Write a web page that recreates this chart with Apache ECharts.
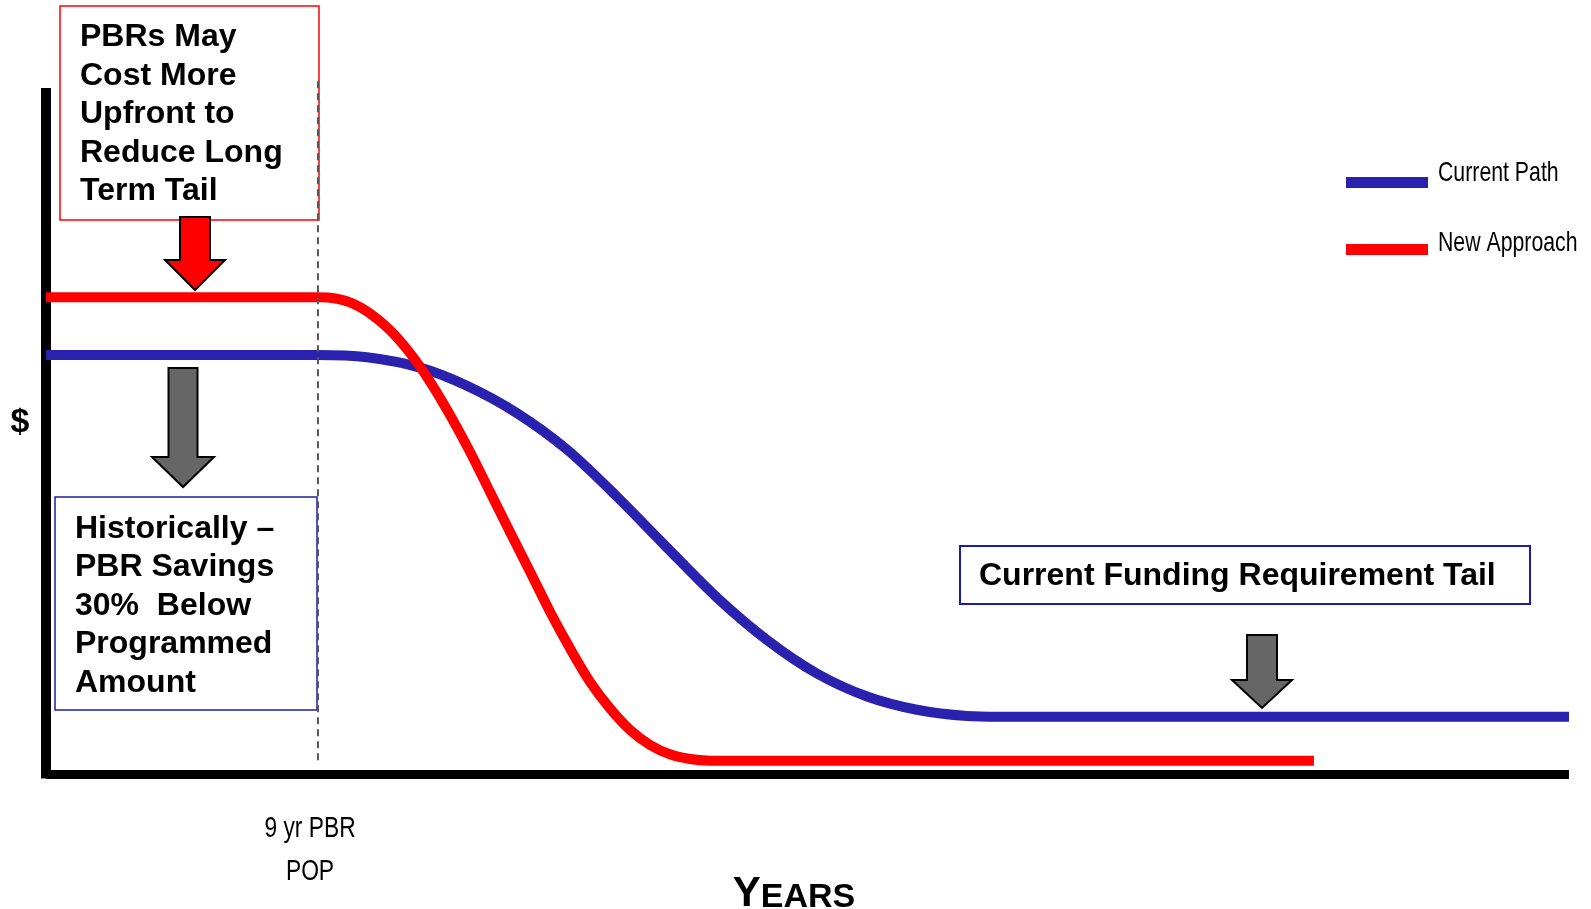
<!DOCTYPE html>
<html>
<head>
<meta charset="utf-8">
<script src="https://cdn.jsdelivr.net/npm/echarts@6/dist/echarts.min.js"></script>
<style>
html,body{margin:0;padding:0;background:#fff;}
#chart{width:1591px;height:909px;}
</style>
</head>
<body>
<div id="chart"></div>
<script>
// ---- data (x = years, y = relative $) ----
const seriesNames = ['Current Path', 'New Approach'];
const seriesColors = ['#2A22AE', '#FF0000'];
const currentPath = [
  [0, 61.08], [8, 61.08], [9, 61.08], [10.62, 60.74], [12.38, 59.24], [13.93, 56.6],
  [15.59, 52.6], [17.24, 47.3], [18.89, 40.45], [20.55, 33.0], [22.2, 25.73],
  [23.86, 19.53], [25.51, 14.65], [27.17, 11.3], [28.82, 9.37], [30.48, 8.45],
  [31.57, 8.35], [33.0, 8.35], [50.4, 8.35]
];
const newApproach = [
  [0, 69.49], [8, 69.49], [9, 69.49], [9.4, 69.43], [10.06, 68.76], [10.72, 67.16],
  [11.38, 64.72], [12.05, 61.33], [12.71, 57.19], [13.37, 52.33], [14.03, 46.98],
  [14.69, 41.15], [15.35, 35.32], [16.02, 29.49], [16.68, 23.66], [17.34, 18.32],
  [18.0, 13.45], [18.66, 9.58], [19.33, 6.41], [19.99, 4.23], [20.65, 2.87],
  [21.31, 2.19], [21.97, 1.94], [22.63, 1.92], [24.0, 1.92], [41.96, 1.92]
];
const popYear = 9;
const popLabel = '9 yr PBR\nPOP';
const xName = 'YEARS';
const yName = '$';
const noteTop = 'PBRs May\nCost More\nUpfront to\nReduce Long\nTerm Tail';
const noteLeft = 'Historically –\nPBR Savings\n30%  Below\nProgrammed\nAmount';
const noteRight = 'Current Funding Requirement Tail';

const BOLD = "'Liberation Sans', Arial, Helvetica, sans-serif";
const REG = "'Liberation Sans', Arial, Helvetica, sans-serif";
const CONDENSE = 0.76;

const chart = echarts.init(document.getElementById('chart'), null, {renderer: 'canvas'});

function arrow(tipX, tipY, len, headH, headHalf, shaftHalf, fill) {
  return {
    type: 'polygon',
    z: 50,
    shape: {
      points: [
        [tipX - shaftHalf, tipY - len], [tipX + shaftHalf, tipY - len],
        [tipX + shaftHalf, tipY - headH], [tipX + headHalf, tipY - headH],
        [tipX, tipY], [tipX - headHalf, tipY - headH], [tipX - shaftHalf, tipY - headH]
      ]
    },
    style: {fill: fill, stroke: '#000', lineWidth: 2, lineJoin: 'miter'}
  };
}

const option = {
  animation: false,
  backgroundColor: '#fff',
  grid: {left: 46, right: 22, top: 88, bottom: 135},
  xAxis: {
    type: 'value', min: 0, max: 50.4,
    axisLine: {show: true, onZero: true, lineStyle: {color: '#000', width: 9, cap: 'butt'}},
    axisTick: {show: false}, axisLabel: {show: false}, splitLine: {show: false}
  },
  yAxis: {
    type: 'value', min: 0, max: 100,
    axisLine: {show: true, lineStyle: {color: '#000', width: 10, cap: 'butt'}},
    axisTick: {show: false}, axisLabel: {show: false}, splitLine: {show: false}
  },
  series: [
    {
      name: seriesNames[0], type: 'line', data: currentPath, smooth: 0.3,
      symbol: 'none', z: 3,
      lineStyle: {color: seriesColors[0], width: 10, cap: 'butt'},
      itemStyle: {color: seriesColors[0]}
    },
    {
      name: seriesNames[1], type: 'line', data: newApproach, smooth: 0.3,
      symbol: 'none', z: 4,
      lineStyle: {color: seriesColors[1], width: 10, cap: 'butt'},
      itemStyle: {color: seriesColors[1]}
    }
  ]
};
chart.setOption(option);

const popX = chart.convertToPixel({xAxisIndex: 0}, popYear);
const popTop = chart.convertToPixel({yAxisIndex: 0}, 101);
const popBottom = chart.convertToPixel({yAxisIndex: 0}, 1.9);
const origin = chart.convertToPixel({gridIndex: 0}, [0, 0]);

chart.setOption({
  graphic: [
    // axis corner fill
    {type: 'rect', z: 5, shape: {x: origin[0] - 5, y: origin[1] - 1, width: 6, height: 5.5},
     style: {fill: '#000'}},
    // boxes
    {type: 'rect', z: 10, shape: {x: 60, y: 6, width: 259, height: 214},
     style: {fill: '#fff', stroke: '#FF0000', lineWidth: 1.5}},
    {type: 'rect', z: 10, shape: {x: 55, y: 497, width: 262, height: 213},
     style: {fill: '#fff', stroke: '#1C1CA8', lineWidth: 1.5}},
    {type: 'rect', z: 10, shape: {x: 960, y: 546, width: 570, height: 58},
     style: {fill: '#fff', stroke: '#1C1CA8', lineWidth: 2}},
    // box texts
    {type: 'text', z: 11, style: {x: 80, y: 18, text: noteTop, fill: '#000',
      fontFamily: BOLD, fontWeight: 'bold', fontSize: 32, lineHeight: 38.5,
      align: 'left', verticalAlign: 'top'}},
    {type: 'text', z: 11, style: {x: 75, y: 509.5, text: noteLeft, fill: '#000',
      fontFamily: BOLD, fontWeight: 'bold', fontSize: 32, lineHeight: 38.5,
      align: 'left', verticalAlign: 'top'}},
    {type: 'text', z: 11, style: {x: 979, y: 576, text: noteRight, fill: '#000',
      fontFamily: BOLD, fontWeight: 'bold', fontSize: 32,
      align: 'left', verticalAlign: 'middle'}},
    // dashed POP line
    {type: 'line', z: 12, shape: {x1: popX, y1: popTop, x2: popX, y2: popBottom},
     style: {stroke: '#555', lineWidth: 2, lineDash: [7, 5]}},
    // arrows
    arrow(195, 290, 73, 30, 30, 15, '#FF0000'),
    arrow(183, 487, 119, 30, 31, 14.5, '#666666'),
    arrow(1262, 708, 73, 28, 30, 15, '#666666'),
    // legend
    {type: 'rect', z: 20, shape: {x: 1346, y: 177, width: 82, height: 11}, style: {fill: seriesColors[0]}},
    {type: 'rect', z: 20, shape: {x: 1346, y: 244, width: 82, height: 11}, style: {fill: seriesColors[1]}},
    {type: 'text', z: 20, x: 1438, y: 173, scaleX: CONDENSE,
     style: {x: 0, y: 0, text: seriesNames[0], fill: '#000', fontFamily: REG, fontSize: 28,
       align: 'left', verticalAlign: 'middle'}},
    {type: 'text', z: 20, x: 1438, y: 243.5, scaleX: CONDENSE,
     style: {x: 0, y: 0, text: seriesNames[1], fill: '#000', fontFamily: REG, fontSize: 28,
       align: 'left', verticalAlign: 'middle'}},
    // axis texts
    {type: 'text', z: 11, style: {x: 20, y: 423, text: yName, fill: '#000',
      fontFamily: BOLD, fontWeight: 'bold', fontSize: 34,
      align: 'center', verticalAlign: 'middle'}},
    {type: 'text', z: 11, x: 310, y: 850, scaleX: CONDENSE,
     style: {x: 0, y: 0, text: popLabel, fill: '#000',
      fontFamily: REG, fontSize: 30, lineHeight: 43,
      align: 'center', verticalAlign: 'middle'}},
    {type: 'text', z: 11, style: {x: 794, y: 915,
      text: '{a|' + xName.charAt(0) + '}{b|' + xName.slice(1) + '}',
      align: 'center', verticalAlign: 'bottom',
      rich: {
        a: {fontFamily: BOLD, fontWeight: 'bold', fontSize: 42, fill: '#000', verticalAlign: 'bottom', lineHeight: 45},
        b: {fontFamily: BOLD, fontWeight: 'bold', fontSize: 34, fill: '#000', verticalAlign: 'bottom', lineHeight: 45}
      }}}
  ]
});
</script>
</body>
</html>
